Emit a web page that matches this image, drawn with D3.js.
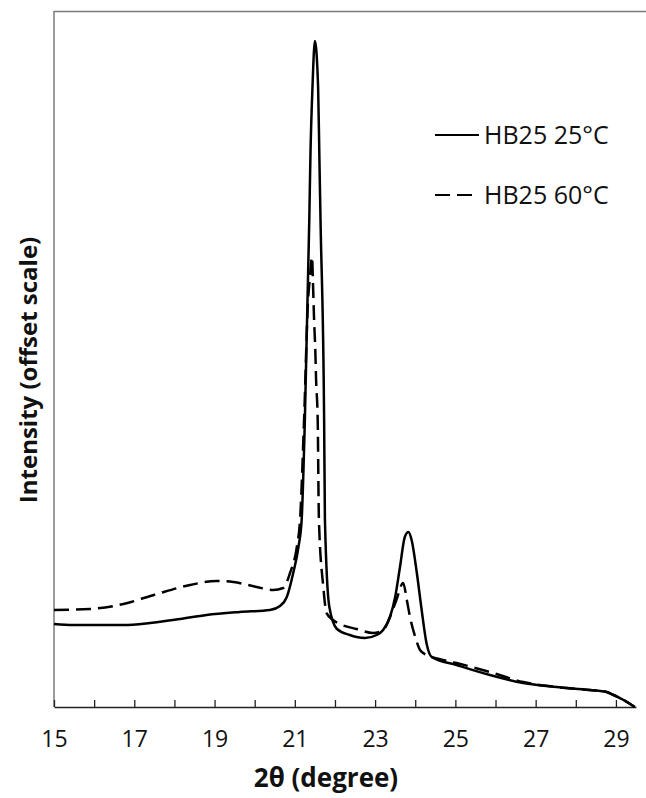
<!DOCTYPE html>
<html>
<head>
<meta charset="utf-8">
<script src="https://cdn.jsdelivr.net/npm/d3@7"></script>
<style>
  html, body { margin: 0; padding: 0; background: #fff; }
  svg { display: block; }
  text { font-family: "Open Sans", "Noto Sans", sans-serif; fill: #111; }
</style>
</head>
<body>
<svg id="chart" width="646" height="798"></svg>
<script>
// ---- data ----
const theta25 = [15.00, 15.48, 16.00, 16.73, 17.39, 18.14, 18.80, 19.63, 20.38, 20.63, 20.80, 20.96, 21.09, 21.17, 21.25, 21.36, 21.39, 21.44, 21.50, 21.58, 21.61, 21.64, 21.73, 21.75, 21.86, 22.05, 22.37, 22.54, 22.75, 23.04, 23.20, 23.37, 23.50, 23.62, 23.74, 23.83, 23.91, 24.04, 24.16, 24.28, 24.41, 25.03, 25.86, 26.69, 27.52, 28.35, 28.77, 28.94, 29.19, 29.47];
const int25   = [83, 82, 82, 82, 84, 88, 92, 95, 97, 101, 110, 134, 160, 187, 287, 487, 554, 620, 666, 620, 554, 487, 287, 187, 100, 78, 72, 70, 69, 72, 77, 90, 110, 140, 170, 175, 167, 134, 97, 64, 50, 42, 32, 24, 20, 17, 15, 12, 7, 0];

const theta60 = [15.00, 15.90, 16.73, 17.56, 18.39, 19.05, 19.47, 20.05, 20.46, 20.71, 20.88, 21.05, 21.13, 21.23, 21.33, 21.37, 21.43, 21.45, 21.48, 21.51, 21.53, 21.57, 21.60, 21.71, 21.79, 21.95, 22.12, 22.54, 22.95, 23.20, 23.37, 23.53, 23.70, 23.79, 23.87, 24.00, 24.12, 24.28, 24.41, 25.03, 25.86, 26.69, 27.52, 28.35, 28.77, 28.94, 29.19, 29.47];
const int60   = [97, 98, 103, 113, 122, 126, 125, 120, 117, 119, 134, 160, 187, 287, 407, 427, 450, 427, 387, 357, 327, 287, 187, 120, 94, 87, 83, 78, 74, 77, 90, 107, 124, 107, 90, 70, 57, 52, 50, 44, 35, 25, 20, 17, 15, 12, 7, 0];

const xTicks = [15, 16, 17, 18, 19, 20, 21, 22, 23, 24, 25, 26, 27, 28, 29];
const xTickLabels = ["15", "", "17", "", "19", "", "21", "", "23", "", "25", "", "27", "", "29"];
const seriesNames = ["HB25 25°C", "HB25 60°C"];

// ---- layout ----
const svg = d3.select("#chart");
const mLeft = 54, mRight = 636, mTop = 11, mBottom = 707;

const x = d3.scaleLinear().domain([15, 29.5]).range([mLeft, mRight]);
const y = d3.scaleLinear().domain([0, 696]).range([mBottom, mTop]);

// frame: top border and left axis (grey)
svg.append("line").attr("x1", mLeft).attr("x2", 646).attr("y1", mTop + 0.5).attr("y2", mTop + 0.5)
  .attr("stroke", "#7a7a7a").attr("stroke-width", 1.5);
svg.append("line").attr("x1", mLeft).attr("x2", mLeft).attr("y1", mTop).attr("y2", mBottom)
  .attr("stroke", "#7a7a7a").attr("stroke-width", 1.5);

// bottom axis
const xAxis = d3.axisBottom(x)
  .tickValues(xTicks)
  .tickFormat((d, i) => xTickLabels[i])
  .tickSizeInner(-7).tickSizeOuter(0).tickPadding(24);
const gx = svg.append("g").attr("transform", `translate(0,${mBottom})`).call(xAxis);
gx.select(".domain").attr("stroke", "#222").attr("stroke-width", 1.5);
gx.selectAll(".tick line").attr("stroke", "#222").attr("stroke-width", 1.3);
gx.selectAll(".tick text").style("font-family", '"Open Sans", sans-serif')
  .style("font-size", "23px").attr("fill", "#1a1a1a");

// curves
const line = d3.line().x(d => x(d[0])).y(d => y(d[1])).curve(d3.curveMonotoneX);
const data25 = theta25.map((t, i) => [t, int25[i]]);
const data60 = theta60.map((t, i) => [t, int60[i]]);

svg.append("path").datum(data60).attr("d", line)
  .attr("fill", "none").attr("stroke", "#000").attr("stroke-width", 2.5)
  .attr("stroke-dasharray", "15,7");
svg.append("path").datum(data25).attr("d", line)
  .attr("fill", "none").attr("stroke", "#000").attr("stroke-width", 2.5);

// legend
const legend = svg.append("g");
const legendY = [135, 195];
const legendDash = [null, "15,7"];
seriesNames.forEach((name, i) => {
  legend.append("line").attr("x1", 435).attr("x2", 479)
    .attr("y1", legendY[i]).attr("y2", legendY[i])
    .attr("stroke", "#000").attr("stroke-width", 2)
    .attr("stroke-dasharray", legendDash[i]);
  legend.append("text").attr("x", 484).attr("y", legendY[i] + 9)
    .style("font-size", "25px").text(name);
});

// axis titles
svg.append("text").attr("x", 326).attr("y", 787).attr("text-anchor", "middle")
  .style("font-size", "26px").style("font-weight", "bold").text("2θ (degree)");
svg.append("text").attr("transform", "translate(37,370) rotate(-90)").attr("text-anchor", "middle")
  .style("font-size", "24px").style("font-weight", "bold").text("Intensity (offset scale)");
</script>
</body>
</html>
